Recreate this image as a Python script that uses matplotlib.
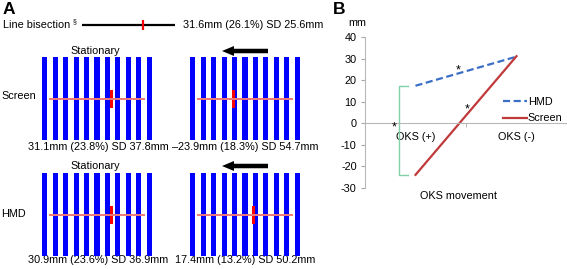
import numpy as np
import matplotlib
matplotlib.use('Agg')
import matplotlib.pyplot as plt
from matplotlib.patches import Rectangle, FancyArrow

matplotlib.rcParams['font.family'] = 'Liberation Sans'
matplotlib.rcParams['axes.unicode_minus'] = False

# ---- data ----
conditions = ['Screen', 'HMD']
stationary_mm = [31.1, 30.9]
stationary_pct = [23.8, 23.6]
stationary_sd = [37.8, 36.9]
moving_mm = [-23.9, 17.4]
moving_pct = [18.3, 13.2]
moving_sd = [54.7, 50.2]

bisection_mm = 31.6
bisection_pct = 26.1
bisection_sd = 25.6

oks_labels = ['OKS (+)', 'OKS (-)']
hmd_vals = [17.4, 30.9]
screen_vals = [-23.9, 31.1]
y_ticks = [-30, -20, -10, 0, 10, 20, 30, 40]

FS = 7.8
W, H = 567, 269
fig = plt.figure(figsize=(W / 100, H / 100), dpi=100)


def box(x0, y0, x1, y1):
    """pixel box (top-left origin) -> figure fraction rect"""
    return [x0 / W, 1 - y1 / H, (x1 - x0) / W, (y1 - y0) / H]


def mm_txt(v, p, sd):
    s = f"{abs(v):.1f}mm ({p:.1f}%) SD {sd:.1f}mm"
    return ('\u2013' + s) if v < 0 else s


# overlay in pixel units for labels / arrows
ov = fig.add_axes([0, 0, 1, 1])
ov.set_xlim(0, W)
ov.set_ylim(H, 0)
ov.axis('off')

ov.text(3, 9, 'A', fontsize=12.5, fontweight='bold', va='center', ha='left')
ov.text(333, 10, 'B', fontsize=12.5, fontweight='bold', va='center', ha='left')

# ---- line bisection ----
ov.text(3, 25, 'Line bisection', fontsize=FS, va='center', ha='left')
ov.text(73, 22, '\u00a7', fontsize=5, va='center', ha='left')
axb = fig.add_axes(box(82, 18, 175, 32))
axb.set_xlim(-100, 100)
axb.set_ylim(-1, 1)
axb.axis('off')
axb.plot([-100, 100], [0, 0], color='black', lw=1.6, solid_capstyle='butt')
axb.plot([bisection_mm, bisection_mm], [-0.75, 0.75], color='#ff0000', lw=1.6,
         solid_capstyle='butt')
ov.text(183, 25, mm_txt(bisection_mm, bisection_pct, bisection_sd), fontsize=FS,
        va='center', ha='left')

# ---- stimulus panels ----
row_y = [(57, 140), (173, 256)]
col_x = [(42, 152), (190, 300)]
text_cx = [98.5, 245.5]
head_y = [51, 166]
text_y = [146.5, 260]
label_y = [96, 214]

bar_centers = np.linspace(-112.5, 112.5, 11)
for r, cond in enumerate(conditions):
    ov.text(1, label_y[r], cond, fontsize=FS, va='center', ha='left')
    # header: "Stationary" and arrow
    ov.text(95, head_y[r], 'Stationary', fontsize=FS, va='center', ha='center')
    ov.add_patch(FancyArrow(268, head_y[r], -34, 0, width=4.5, head_width=10,
                            head_length=12, length_includes_head=False,
                            color='black', lw=0))
    vals = [stationary_mm[r], moving_mm[r]]
    pcts = [stationary_pct[r], moving_pct[r]]
    sds = [stationary_sd[r], moving_sd[r]]
    for c in range(2):
        x0, x1 = col_x[c]
        y0, y1 = row_y[r]
        ax = fig.add_axes(box(x0, y0, x1, y1))
        ax.set_xlim(-118, 118)
        ax.set_ylim(0, 83)
        ax.axis('off')
        for bc in bar_centers:
            ax.add_patch(Rectangle((bc - 5.4, 0), 10.8, 83, color='#0000ff', lw=0))
        ax.plot([-102, 102], [41.5, 41.5], color='#f07878', lw=1.4,
                solid_capstyle='butt')
        ax.add_patch(Rectangle((vals[c] - 3.2, 32.5), 6.4, 18, color='#ff0000', lw=0))
        ov.text(text_cx[c], text_y[r], mm_txt(vals[c], pcts[c], sds[c]),
                fontsize=FS, va='center', ha='center')

# ---- panel B ----
axB = fig.add_axes(box(365, 37, 567, 188))
x = np.arange(len(oks_labels))
axB.plot(x, hmd_vals, color='#3b6fc6', lw=1.6, dashes=(3.2, 1.6), label='HMD')
axB.plot(x, screen_vals, color='#c0393b', lw=1.6, label='Screen')
axB.set_xlim(-0.5, 1.5)
axB.set_ylim(-30, 40)
axB.set_yticks(y_ticks)
axB.tick_params(axis='y', labelsize=FS, length=3, color='#a8a8a8', pad=3)
axB.set_xticks(x)
axB.set_xticklabels(oks_labels)
axB.tick_params(axis='x', which='major', length=0, pad=6, labelsize=FS)
axB.set_xticks([-0.5, 0.5, 1.5], minor=True)
axB.tick_params(axis='x', which='minor', length=3, color='#a8a8a8')
for s in ['top', 'right']:
    axB.spines[s].set_visible(False)
axB.spines['left'].set_color('#b8b8b8')
axB.spines['bottom'].set_color('#b8b8b8')
axB.spines['bottom'].set_position(('data', 0))
axB.patch.set_alpha(0)

# bracket + significance stars
bx, bx2 = -0.163, -0.07
axB.plot([bx2, bx, bx, bx2], [hmd_vals[0], hmd_vals[0], screen_vals[0], screen_vals[0]],
         color='#80d0a8', lw=1.0)
axB.text(-0.215, -2.0, '*', fontsize=9, ha='center', va='center')
axB.text(0.42, 24.5, '*', fontsize=9, ha='center', va='center')
axB.text(0.51, 6.5, '*', fontsize=9, ha='center', va='center')

axB.legend(loc='upper left', bbox_to_anchor=(503 / W, 1 - 97 / H),
           bbox_transform=fig.transFigure, frameon=False, fontsize=FS,
           handlelength=2.2, handletextpad=0.1, borderpad=0, borderaxespad=0,
           labelspacing=0.6)

ov.text(348, 23, 'mm', fontsize=FS, va='center', ha='left')
ov.text(459, 196, 'OKS movement', fontsize=FS, va='center', ha='center')

fig.savefig('out.png', dpi=100)
